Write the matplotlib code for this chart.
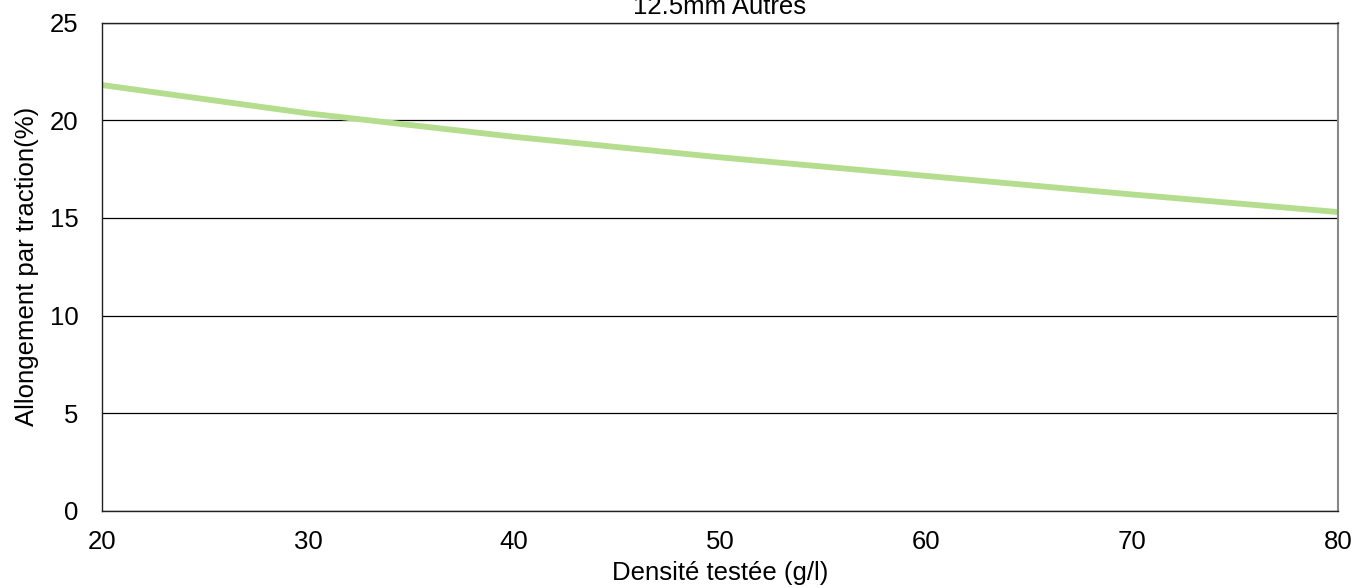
import matplotlib
matplotlib.use("Agg")
import matplotlib.pyplot as plt

density = [20, 30, 40, 50, 60, 70, 80]
elongation = [21.8, 20.35, 19.15, 18.1, 17.15, 16.2, 15.3]
title = "12.5mm Autres"
xlabel = "Densité testée (g/l)"
ylabel = "Allongement par traction(%)"

plt.rcParams['font.family'] = ['Liberation Sans', 'DejaVu Sans']

fig = plt.figure(figsize=(13.56, 5.88), dpi=100)
ax = fig.add_axes([102/1356, 1-511/588, (1338-102)/1356, (511-22.5)/588])
ax.plot(density, elongation, color='#B4DD8E', lw=4.2, solid_capstyle='butt')
ax.set_xlim(20, 80)
ax.set_ylim(0, 25)
ax.set_xticks([20, 30, 40, 50, 60, 70, 80])
ax.set_yticks([0, 5, 10, 15, 20, 25])
ax.grid(axis='y', color='black', lw=0.9)
ax.set_axisbelow(True)
ax.tick_params(length=0, labelsize=18.5, pad=14)
ax.tick_params(axis='y', pad=17)
for s in ['top', 'left', 'bottom']:
    ax.spines[s].set_color('#222222')
    ax.spines[s].set_linewidth(1.0)
ax.spines['right'].set_color('#888888')
ax.spines['right'].set_linewidth(1.5)
fig.text(720/1356, 1-14.5/588, title, fontsize=18.5, ha='center', va='baseline')
ax.set_xlabel(xlabel, fontsize=18.5, labelpad=5)
ax.set_ylabel(ylabel, fontsize=18.5, labelpad=8)
fig.savefig("out.png", dpi=100)
